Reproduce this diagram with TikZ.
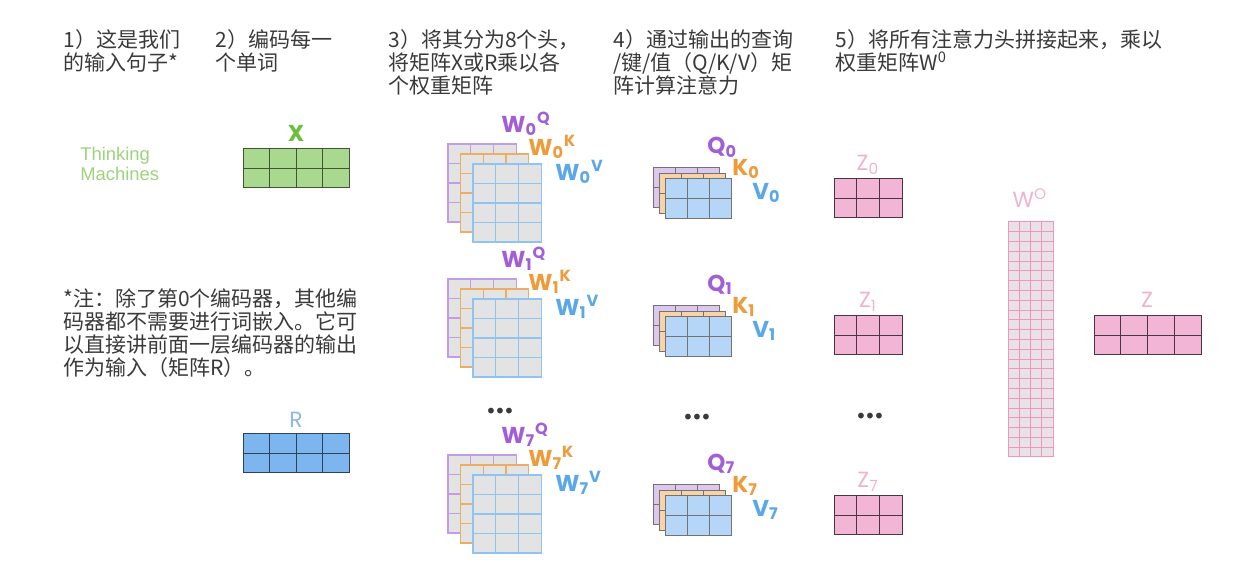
\documentclass[tikz,border=0pt]{standalone}
\usepackage{fontspec}
\setmainfont{Noto Sans CJK SC}
\newfontfamily\lblfont{Poppins}
\newfontfamily\engfont{Liberation Sans}

\definecolor{txt}{HTML}{3A3A3A}
\definecolor{xgreen}{HTML}{A9D98E}
\definecolor{xlabel}{HTML}{6CBF3A}
\definecolor{thinkgreen}{HTML}{9CD37C}
\definecolor{rblue}{HTML}{7DB6EE}
\definecolor{rlabel}{HTML}{8DB8E8}
\definecolor{wgray}{HTML}{E3E3E3}
\definecolor{plin}{HTML}{C39CE6}
\definecolor{olin}{HTML}{EBAE62}
\definecolor{blin}{HTML}{8EC3F2}
\definecolor{lpurple}{HTML}{A25ED6}
\definecolor{lorange}{HTML}{EE9B3B}
\definecolor{lblue}{HTML}{5AA8E8}
\definecolor{qpurple}{HTML}{DCC8EE}
\definecolor{qorange}{HTML}{F8D3A8}
\definecolor{qblue}{HTML}{B5D6F6}
\definecolor{zpink}{HTML}{F3B5D5}
\definecolor{zlabel}{HTML}{EFB3CE}
\definecolor{wopink}{HTML}{F294BE}
\definecolor{wofill}{HTML}{E8E2E6}

% style, x, y, cols, rows, cell width, cell height
\newcommand{\cellgrid}[7]{%
  \foreach \i in {1,...,#4}{\foreach \j in {1,...,#5}{%
    \draw[#1] ({#2+(\i-1)*#6},{#3+(\j-1)*#7}) rectangle ++(#6,#7);}}}

\begin{document}
\begin{tikzpicture}[x=0.5pt,y=-0.5pt,
  steptext/.style={anchor=north west, inner sep=0, align=left, text=txt,
    font=\fontsize{10.5}{11.5}\selectfont},
  lbl/.style={inner sep=0, anchor=west, font=\lblfont\bfseries\fontsize{11.5}{12}\selectfont},
  plbl/.style={inner sep=0, text=zlabel, font=\lblfont\fontsize{11}{12}\selectfont},
  dots/.style={inner sep=0, text=txt, font=\fontsize{3.2}{4}\selectfont},
  wmat/.style={fill=wgray, line width=0.6pt},
  qmat/.style={draw=black!55, line width=0.5pt},
  zmat/.style={fill=zpink, draw=black!50!zpink!60!black, line width=0.5pt}]
  \useasboundingbox (0,0) rectangle (1258,565);

  % step headings
  \node[steptext] (s1) at (63,29) {1）这是我们\\的输入句子*};
  \node[steptext] (s2) at (215,29) {2）编码每一\\个单词};
  \node[steptext] (s3) at (388,29) {3）将其分为8个头，\\将矩阵X或R乘以各\\个权重矩阵};
  \node[steptext] (s4) at (613,29) {4）通过输出的查询\\/键/值（Q/K/V）矩\\阵计算注意力};
  \node[steptext] (s5) at (835,29) {5）将所有注意力头拼接起来，乘以\\权重矩阵W\textsuperscript{0}};
  \node[steptext] (note) at (63,288) {*注：除了第0个编码器，其他编\\码器都不需要进行词嵌入。它可\\以直接讲前面一层编码器的输出\\作为输入（矩阵R）。};

  % input sentence and embeddings
  \node[inner sep=0, anchor=north west, align=left, text=thinkgreen,
    font=\engfont\fontsize{9.2}{10}\selectfont] (sent) at (80,147) {Thinking\\Machines};
  \cellgrid{fill=xgreen, draw=black!45!xgreen!70!black, line width=0.5pt}{243}{149}{4}{2}{26.5}{19.5}
  \node[inner sep=0, text=xlabel, font=\lblfont\bfseries\fontsize{11.5}{12}\selectfont] (xlbl) at (296,133) {X};
  \cellgrid{fill=rblue, draw=black!40!rblue!60!black, line width=0.5pt}{243}{434}{4}{2}{26.5}{19.5}
  \node[inner sep=0, text=rlabel, font=\lblfont\fontsize{11}{12}\selectfont] (rlbl) at (296,420) {R};

  % weight matrices per head
  \foreach \k/\t in {0/144,1/279,7/455}{
    \cellgrid{wmat, draw=plin}{448}{\t}{3}{4}{22.7}{19.5}
    \cellgrid{wmat, draw=olin}{460.5}{\t+10}{3}{4}{22.7}{19.5}
    \cellgrid{wmat, draw=blin}{473}{\t+20}{3}{4}{22.7}{19.5}
    \node[lbl, text=lpurple] (wq\k) at (501,\t-20) {W\textsubscript{\k}\textsuperscript{Q}};
    \node[lbl, text=lorange] (wk\k) at (528,\t+3) {W\textsubscript{\k}\textsuperscript{K}};
    \node[lbl, text=lblue] (wv\k) at (555,\t+28) {W\textsubscript{\k}\textsuperscript{V}};
  }
  \node[dots] (wdots) at (500,411) {●\hspace{1.3pt}●\hspace{1.3pt}●};

  % Q/K/V per head
  \foreach \k/\s in {0/168,1/306,7/485}{
    \cellgrid{qmat, fill=qpurple}{653}{\s}{3}{2}{22.3}{20}
    \cellgrid{qmat, fill=qorange}{659}{\s+6}{3}{2}{22.3}{20}
    \cellgrid{qmat, fill=qblue}{665}{\s+11}{3}{2}{22.3}{20}
    \node[lbl, text=lpurple] (q\k) at (707,\s-21) {Q\textsubscript{\k}};
    \node[lbl, text=lorange] (k\k) at (732,\s+1) {K\textsubscript{\k}};
    \node[lbl, text=lblue] (v\k) at (752,\s+25) {V\textsubscript{\k}};
  }
  \node[dots] (qdots) at (697,417) {●\hspace{1.3pt}●\hspace{1.3pt}●};

  % attention outputs
  \foreach \k/\z in {0/179,1/316,7/496}{
    \cellgrid{zmat}{834}{\z}{3}{2}{22.7}{19.5}
    \node[plbl] (z\k) at (868,\z-14) {Z\textsubscript{\k}};
  }
  \node[dots] (zdots) at (870,416) {●\hspace{1.3pt}●\hspace{1.3pt}●};

  % output projection
  \cellgrid{fill=wofill, draw=wopink, line width=0.5pt}{1008}{222}{4}{24}{11.25}{9.79}
  \node[plbl] (wo) at (1030,198) {W\textsuperscript{O}};
  \cellgrid{zmat}{1094}{316}{4}{2}{26.75}{19.5}
  \node[plbl] (zout) at (1147,300) {Z};
\end{tikzpicture}
\end{document}
